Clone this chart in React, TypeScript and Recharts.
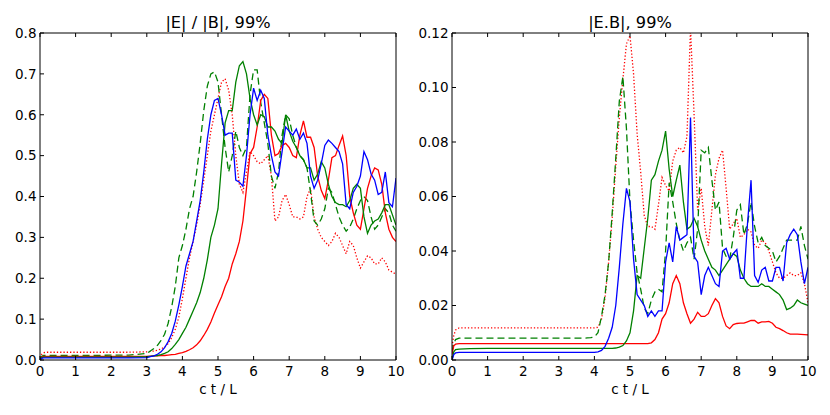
import { LineChart, Line, XAxis, YAxis } from 'recharts'

// shared time axis c t / L (coarse while flat, 0.1 steps once things move)
const X = [
    0, 0.05, 0.1, 0.2, 0.5, 1, 1.5, 2, 2.5,
    3.0, 3.1, 3.2, 3.3, 3.4, 3.5, 3.6, 3.7, 3.8, 3.9,
    4.0, 4.1, 4.2, 4.3, 4.4, 4.5, 4.6, 4.7, 4.8, 4.9,
    5.0, 5.1, 5.2, 5.3, 5.4, 5.5, 5.6, 5.7, 5.8, 5.9,
    6.0, 6.1, 6.2, 6.3, 6.4, 6.5, 6.6, 6.7, 6.8, 6.9,
    7.0, 7.1, 7.2, 7.3, 7.4, 7.5, 7.6, 7.7, 7.8, 7.9,
    8.0, 8.1, 8.2, 8.3, 8.4, 8.5, 8.6, 8.7, 8.8, 8.9,
    9.0, 9.1, 9.2, 9.3, 9.4, 9.5, 9.6, 9.7, 9.8, 9.9, 10.0,
]

// |E| / |B|
const EB_BLUE = [
    0.0, 0.004, 0.005, 0.005, 0.005, 0.005, 0.005, 0.005, 0.005,
    0.006, 0.008, 0.01, 0.014, 0.02, 0.03, 0.045, 0.065, 0.095, 0.135,
    0.18, 0.23, 0.26, 0.29, 0.34, 0.39, 0.46, 0.54, 0.6, 0.635,
    0.64, 0.6, 0.55, 0.555, 0.555, 0.44, 0.435, 0.425, 0.5, 0.6,
    0.665, 0.635, 0.66, 0.64, 0.55, 0.5, 0.46, 0.45, 0.51, 0.57,
    0.56, 0.55, 0.565, 0.54, 0.555, 0.53, 0.45, 0.42, 0.44, 0.48,
    0.525, 0.538, 0.53, 0.52, 0.51, 0.48, 0.38, 0.37, 0.41, 0.425,
    0.45, 0.51, 0.49, 0.455, 0.44, 0.405, 0.41, 0.46, 0.385, 0.375, 0.445,
]
const EB_GREEN = [
    0.0, 0.006, 0.007, 0.007, 0.007, 0.007, 0.007, 0.007, 0.007,
    0.008, 0.009, 0.01, 0.011, 0.013, 0.016, 0.02, 0.028, 0.038, 0.05,
    0.065, 0.08, 0.1, 0.12, 0.14, 0.165, 0.2, 0.245, 0.3, 0.33,
    0.37, 0.48, 0.58, 0.61, 0.61, 0.68, 0.72, 0.73, 0.7, 0.64,
    0.6, 0.575, 0.6, 0.595, 0.57, 0.57, 0.56, 0.54, 0.53, 0.6,
    0.56, 0.535, 0.52, 0.5, 0.49, 0.47, 0.47, 0.44, 0.455, 0.485,
    0.47, 0.43, 0.4, 0.385, 0.38, 0.38, 0.375, 0.39, 0.42, 0.43,
    0.42, 0.35, 0.31, 0.33, 0.34, 0.345, 0.36, 0.38, 0.38, 0.355, 0.33,
]
const EB_RED = [
    0.002, 0.007, 0.009, 0.009, 0.009, 0.009, 0.009, 0.009, 0.009,
    0.009, 0.0095, 0.01, 0.01, 0.011, 0.011, 0.012, 0.013, 0.014, 0.016,
    0.018, 0.021, 0.025, 0.03, 0.037, 0.047, 0.06, 0.075, 0.093, 0.115,
    0.135, 0.155, 0.18, 0.2, 0.235, 0.26, 0.29, 0.34, 0.42, 0.505,
    0.52, 0.57, 0.635, 0.65, 0.64, 0.55, 0.5, 0.505, 0.525, 0.53,
    0.52, 0.5, 0.495, 0.55, 0.585, 0.545, 0.545, 0.52, 0.45, 0.415,
    0.395, 0.44, 0.495, 0.5, 0.525, 0.548, 0.5, 0.4, 0.36, 0.33,
    0.32, 0.37, 0.42, 0.45, 0.47, 0.465, 0.43, 0.36, 0.32, 0.3, 0.29,
]
const EB_GREEN_DASH = [
    0.003, 0.009, 0.011, 0.011, 0.011, 0.011, 0.011, 0.012, 0.012,
    0.016, 0.022, 0.028, 0.036, 0.048, 0.063, 0.09, 0.13, 0.18, 0.25,
    0.28, 0.32, 0.37, 0.4, 0.46, 0.53, 0.61, 0.67, 0.7, 0.705,
    0.68, 0.6, 0.52, 0.46, 0.5, 0.56, 0.52, 0.5, 0.52, 0.65,
    0.71, 0.71, 0.63, 0.58, 0.53, 0.45, 0.42, 0.46, 0.55, 0.6,
    0.59, 0.55, 0.52, 0.5, 0.49, 0.47, 0.41, 0.34, 0.33, 0.345,
    0.37, 0.42, 0.41, 0.38, 0.35, 0.33, 0.315, 0.325, 0.345, 0.37,
    0.39, 0.4, 0.39, 0.35, 0.32, 0.33, 0.35, 0.37, 0.36, 0.33, 0.315,
]
const EB_RED_DOT = [
    0.005, 0.014, 0.018, 0.019, 0.019, 0.019, 0.019, 0.019, 0.019,
    0.02, 0.021, 0.022, 0.024, 0.027, 0.032, 0.04, 0.055, 0.075, 0.105,
    0.15, 0.2, 0.25, 0.29, 0.33, 0.38, 0.44, 0.5, 0.56, 0.6,
    0.64, 0.68, 0.688, 0.66, 0.6, 0.5, 0.43, 0.41, 0.46, 0.51,
    0.5, 0.485, 0.48, 0.49, 0.5, 0.45, 0.34, 0.35, 0.39, 0.405,
    0.38, 0.35, 0.35, 0.345, 0.35, 0.4, 0.42, 0.35, 0.32, 0.3,
    0.29, 0.28, 0.29, 0.31, 0.3, 0.28, 0.26, 0.29, 0.28, 0.25,
    0.225, 0.24, 0.255, 0.25, 0.235, 0.235, 0.25, 0.24, 0.22, 0.215, 0.21,
]

// |E.B|
const ED_BLUE = [
    0.0, 0.002, 0.0026, 0.0028, 0.0028, 0.0028, 0.0028, 0.0028, 0.0028,
    0.0028, 0.0028, 0.0028, 0.0028, 0.0028, 0.0028, 0.0028, 0.0028, 0.0028, 0.0028,
    0.0028, 0.003, 0.0035, 0.005, 0.008, 0.012, 0.02, 0.034, 0.05, 0.063,
    0.058, 0.037, 0.024, 0.022, 0.02, 0.016, 0.018, 0.016, 0.018, 0.018,
    0.036, 0.043, 0.036, 0.049, 0.044, 0.045, 0.046, 0.089, 0.038, 0.036,
    0.024, 0.031, 0.034, 0.031, 0.028, 0.027, 0.04, 0.041, 0.037, 0.039,
    0.0405, 0.03, 0.03, 0.05, 0.066, 0.031, 0.0285, 0.033, 0.034, 0.029,
    0.029, 0.034, 0.034, 0.029, 0.043, 0.046, 0.048, 0.046, 0.036, 0.028, 0.034,
]
const ED_GREEN = [
    0.0, 0.003, 0.0038, 0.004, 0.0042, 0.0043, 0.0043, 0.0043, 0.0043,
    0.0043, 0.0043, 0.0043, 0.0043, 0.0043, 0.0043, 0.0043, 0.0043, 0.0043, 0.0043,
    0.0043, 0.0043, 0.0043, 0.0043, 0.0043, 0.0043, 0.0044, 0.0047, 0.0053, 0.007,
    0.01, 0.018, 0.031, 0.03, 0.041, 0.052, 0.066, 0.068, 0.073, 0.077,
    0.084, 0.07, 0.06, 0.066, 0.0715, 0.058, 0.048, 0.049, 0.052, 0.049,
    0.044, 0.04, 0.037, 0.034, 0.033, 0.031, 0.033, 0.035, 0.037, 0.039,
    0.038, 0.033, 0.03, 0.028, 0.027, 0.027, 0.027, 0.028, 0.027, 0.027,
    0.026, 0.025, 0.024, 0.022, 0.0185, 0.019, 0.02, 0.022, 0.021, 0.0205, 0.02,
]
const ED_RED = [
    0.002, 0.0052, 0.0058, 0.006, 0.006, 0.006, 0.006, 0.006, 0.006,
    0.006, 0.006, 0.006, 0.006, 0.006, 0.006, 0.006, 0.006, 0.006, 0.006,
    0.006, 0.006, 0.006, 0.006, 0.006, 0.006, 0.006, 0.006, 0.006, 0.006,
    0.006, 0.006, 0.006, 0.006, 0.006, 0.006, 0.0063, 0.0075, 0.01, 0.015,
    0.017, 0.021, 0.028, 0.031, 0.028, 0.021, 0.017, 0.0135, 0.015, 0.0175,
    0.016, 0.016, 0.017, 0.02, 0.0225, 0.021, 0.016, 0.0125, 0.0115, 0.013,
    0.0134, 0.0135, 0.0135, 0.014, 0.0145, 0.0145, 0.0135, 0.014, 0.014, 0.0142,
    0.0135, 0.012, 0.0115, 0.0108, 0.01, 0.0095, 0.0095, 0.0095, 0.0094, 0.0093, 0.0092,
]
const ED_GREEN_DASH = [
    0.003, 0.006, 0.0075, 0.008, 0.008, 0.008, 0.008, 0.008, 0.008,
    0.008, 0.008, 0.008, 0.008, 0.008, 0.008, 0.008, 0.008, 0.0081, 0.0082,
    0.0085, 0.01, 0.016, 0.024, 0.036, 0.054, 0.074, 0.095, 0.104, 0.085,
    0.058, 0.044, 0.032, 0.026, 0.019, 0.017, 0.022, 0.025, 0.026, 0.025,
    0.04, 0.065, 0.058, 0.05, 0.044, 0.04, 0.043, 0.045, 0.037, 0.048,
    0.077, 0.076, 0.078, 0.066, 0.055, 0.058, 0.041, 0.038, 0.037, 0.045,
    0.055, 0.057, 0.046, 0.05, 0.058, 0.049, 0.043, 0.045, 0.042, 0.041,
    0.04, 0.036, 0.038, 0.041, 0.044, 0.044, 0.044, 0.044, 0.049, 0.042, 0.037,
]
const ED_RED_DOT = [
    0.005, 0.009, 0.011, 0.0118, 0.0118, 0.0118, 0.0118, 0.0118, 0.0118,
    0.0118, 0.0118, 0.0118, 0.0118, 0.0118, 0.0118, 0.0118, 0.0118, 0.0118, 0.0118,
    0.0118, 0.012, 0.015, 0.023, 0.036, 0.052, 0.071, 0.089, 0.103, 0.116,
    0.119, 0.105, 0.083, 0.069, 0.053, 0.049, 0.049, 0.048, 0.057, 0.067,
    0.064, 0.062, 0.073, 0.077, 0.078, 0.076, 0.082, 0.122, 0.09, 0.055,
    0.063, 0.049, 0.042, 0.055, 0.068, 0.074, 0.077, 0.063, 0.048, 0.05,
    0.052, 0.045, 0.046, 0.048, 0.047, 0.042, 0.041, 0.044, 0.043, 0.04,
    0.036, 0.032, 0.03, 0.03, 0.031, 0.032, 0.031, 0.031, 0.032, 0.028, 0.021,
]

const X_TICKS = [0, 1, 2, 3, 4, 5, 6, 7, 8, 9, 10]
const EB_TICKS = [0, 0.1, 0.2, 0.3, 0.4, 0.5, 0.6, 0.7, 0.8]
const ED_TICKS = [0, 0.02, 0.04, 0.06, 0.08, 0.1, 0.12]

const FONT = "'DejaVu Sans', sans-serif"
const tickStyle = { fontSize: 13.5, fill: '#000', fontFamily: FONT }
const blank = () => ''

interface PanelProps {
    series: number[][]
    yMax: number
    yTicks: number[]
    digits: number
    yWidth: number
    rightPad: number
}

function Panel({ series, yMax, yTicks, digits, yWidth, rightPad }: PanelProps) {
    const [blue, green, red, gdash, rdot] = series
    const rows = X.map((x, i) => ({ x, blue: blue[i], green: green[i], red: red[i], gdash: gdash[i], rdot: rdot[i] }))
    return (
        <LineChart width={415} height={415} data={rows} margin={{ top: 32, right: rightPad, left: 0, bottom: 0 }}>
            <XAxis
                dataKey="x" type="number" domain={[0, 10]} ticks={X_TICKS}
                height={55} tickSize={-4} tickMargin={10}
                stroke="#000" tick={tickStyle} allowDataOverflow
            />
            <XAxis
                xAxisId="top" orientation="top" dataKey="x" type="number" domain={[0, 10]} ticks={X_TICKS}
                height={1} tickSize={-4} tickFormatter={blank} stroke="#000"
            />
            <YAxis
                type="number" domain={[0, yMax]} ticks={yTicks} allowDataOverflow
                width={yWidth} tickSize={-4} tickMargin={7.5}
                stroke="#000" tick={tickStyle}
                tickFormatter={(v: number) => v.toFixed(digits)}
            />
            <YAxis
                yAxisId="right" orientation="right" type="number" domain={[0, yMax]} ticks={yTicks}
                width={1} tickSize={-4} tickFormatter={blank} stroke="#000"
            />
            <Line type="linear" dataKey="rdot" stroke="#ff0000" strokeWidth={1.3} strokeDasharray="1.3 2" dot={false} isAnimationActive={false} />
            <Line type="linear" dataKey="gdash" stroke="#008000" strokeWidth={1.3} strokeDasharray="7 4" dot={false} isAnimationActive={false} />
            <Line type="linear" dataKey="red" stroke="#ff0000" strokeWidth={1.3} dot={false} isAnimationActive={false} />
            <Line type="linear" dataKey="green" stroke="#008000" strokeWidth={1.3} dot={false} isAnimationActive={false} />
            <Line type="linear" dataKey="blue" stroke="#0000ff" strokeWidth={1.3} dot={false} isAnimationActive={false} />
        </LineChart>
    )
}

export default function App() {
    return (
        <div style={{ position: 'absolute', left: 0, top: 0, width: 830, height: 415, background: '#fff' }}>
            <div style={{ position: 'absolute', left: 0, top: 0 }}>
                <Panel series={[EB_BLUE, EB_GREEN, EB_RED, EB_GREEN_DASH, EB_RED_DOT]} yMax={0.8} yTicks={EB_TICKS} digits={1} yWidth={40} rightPad={18} />
            </div>
            <div style={{ position: 'absolute', left: 415, top: 0 }}>
                <Panel series={[ED_BLUE, ED_GREEN, ED_RED, ED_GREEN_DASH, ED_RED_DOT]} yMax={0.12} yTicks={ED_TICKS} digits={2} yWidth={37} rightPad={21} />
            </div>
            <svg width={830} height={415} style={{ position: 'absolute', left: 0, top: 0, pointerEvents: 'none' }}>
                <g fontFamily={FONT} fill="#000" textAnchor="middle">
                    <text x={218} y={27.5} fontSize={16.2}>|E| / |B|, 99%</text>
                    <text x={630} y={27.5} fontSize={16.2}>|E.B|, 99%</text>
                    <text x={218} y={394} fontSize={13.5}>c t / L</text>
                    <text x={630} y={394} fontSize={13.5}>c t / L</text>
                </g>
            </svg>
        </div>
    )
}
